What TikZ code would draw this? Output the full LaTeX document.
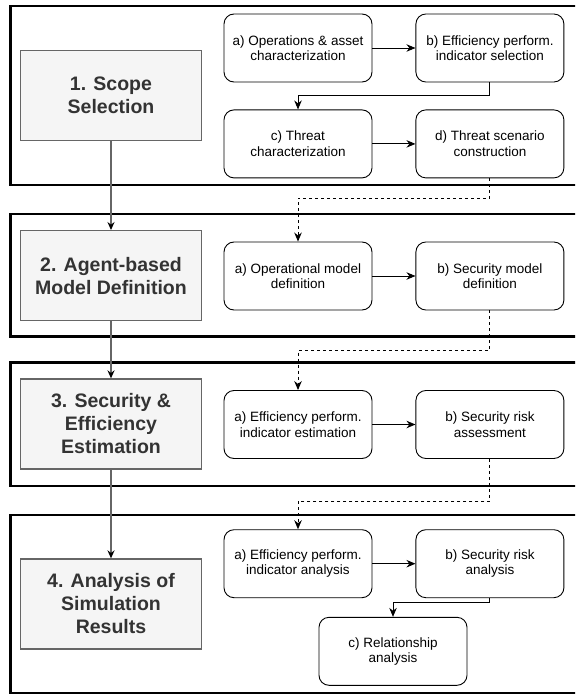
\documentclass[tikz,border=0pt]{standalone}
\usepackage{fontspec}
\setmainfont{Liberation Sans}
\usepackage{xcolor}
\usetikzlibrary{arrows.meta, positioning}
\definecolor{stagefill}{HTML}{F5F5F5}
\definecolor{stageline}{HTML}{666666}
\definecolor{stagetext}{HTML}{333333}

\begin{document}
\begin{tikzpicture}[
    x=1pt, y=-1pt,
    node distance=27pt and 43pt,
    panel/.style={draw, line width=2.7pt},
    stage/.style={rectangle, draw=stageline, fill=stagefill, text=stagetext, line width=1.3pt, minimum width=181pt, minimum height=90pt, align=center, font=\fontsize{19.5}{23}\selectfont\bfseries},
    task/.style={rectangle, rounded corners=10pt, draw, line width=0.9pt, minimum width=148pt, minimum height=68pt, align=center, font=\fontsize{13.5}{15.5}\selectfont},
    flow/.style={->, line width=0.9pt},
    handoff/.style={->, line width=0.9pt, dash pattern=on 3pt off 3pt},
    >={Stealth[length=9pt, width=7.5pt]}
  ]

\clip (0,0) rectangle (575,695);

% Panels
\draw[panel] (10.5,6) rectangle (590,185);
\draw[panel] (10.5,214) rectangle (590,336.7);
\draw[panel] (10.5,362.7) rectangle (590,486);
\draw[panel] (10.5,515) rectangle (590,693);

% Stages
\node[stage] (scope) at (111,95.3) {1. Scope\\Selection};
\node[stage] (agent) at (111,275.7) {2. Agent-based\\Model Definition};
\node[stage] (estim) at (111,424) {3. Security \&\\Efficiency\\Estimation};
\node[stage] (analysis) at (111,604) {4. Analysis of\\Simulation\\Results};

% Tasks
\node[task] (opasset) at (298,48) {a) Operations \& asset\\characterization};
\node[task, right=of opasset] (kpisel) {b) Efficiency perform.\\indicator selection};
\node[task, below=of opasset] (threat) {c) Threat\\characterization};
\node[task, right=of threat] (scenario) {d) Threat scenario\\construction};

\node[task] (opmodel) at (298,276) {a) Operational model\\definition};
\node[task, right=of opmodel] (secmodel) {b) Security model\\definition};

\node[task] (kpiest) at (298,424.5) {a) Efficiency perform.\\indicator estimation};
\node[task, right=of kpiest] (riskass) {b) Security risk\\assessment};

\node[task] (kpiana) at (298,563.7) {a) Efficiency perform.\\indicator analysis};
\node[task, right=of kpiana] (riskana) {b) Security risk\\analysis};
\node[task] (relation) at (393,651.3) {c) Relationship\\analysis};

% Arrows
\draw[->, draw=stageline, line width=1.3pt, >={Stealth[length=8pt, width=7pt, color=black]}] (scope) -- (agent);
\draw[->, draw=stageline, line width=1.3pt, >={Stealth[length=8pt, width=7pt, color=black]}] (agent) -- (estim);
\draw[->, draw=stageline, line width=1.3pt, >={Stealth[length=8pt, width=7pt, color=black]}] (estim) -- (analysis);

\draw[flow] (opasset) -- (kpisel);
\draw[flow] (kpisel.south) -- ++(0,13) -| (threat.north);
\draw[flow] (threat) -- (scenario);
\draw[handoff] (scenario.south) -- ++(0,20) -| (opmodel.north);

\draw[flow] (opmodel) -- (secmodel);
\draw[handoff] (secmodel.south) -- ++(0,40) -| (kpiest.north);

\draw[flow] (kpiest) -- (riskass);
\draw[handoff] (riskass.south) -- ++(0,42.4) -| (kpiana.north);

\draw[flow] (kpiana) -- (riskana);
\draw[flow] (riskana.south) -- ++(0,4.4) -| (relation.north);

\end{tikzpicture}
\end{document}
